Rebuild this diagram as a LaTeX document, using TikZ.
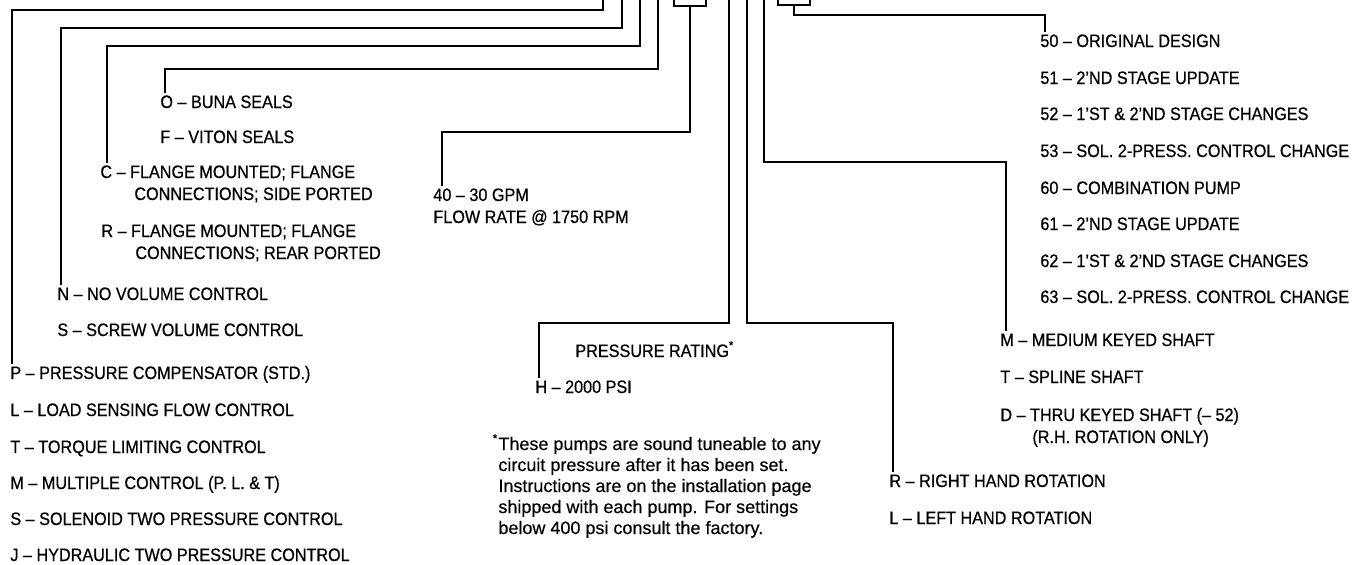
\documentclass[tikz,border=0pt]{standalone}
\usepackage{fontspec}
\setmainfont{Liberation Sans}[FakeStretch=0.9, FakeBold=0.6]
\newfontfamily\notefont{Liberation Sans}[FakeBold=0.4]
\usetikzlibrary{positioning}

\begin{document}
\begin{tikzpicture}[
    x=0.5pt, y=-0.5pt,
    code/.style={anchor=base west, inner sep=0pt, align=left,
                font=\fontsize{9}{11}\selectfont},
    note/.style={anchor=base west, inner sep=0pt, align=left,
                font=\notefont\fontsize{9}{10.5}\selectfont},
    lead/.style={line width=1.2pt, shorten >=1pt},
    slot/.style={draw, line width=1.2pt, minimum width=16pt,
                minimum height=12pt, inner sep=0pt}
]
    \useasboundingbox (0,0) rectangle (1363,564);
    \clip (0,0) rectangle (1363,564);

    % left column
    \node[code] (buna)   at (160,108) {O -- BUNA SEALS};
    \node[code] (viton)  at (160,143) {F -- VITON SEALS};
    \node[code] (cside)  at (100,200) {C -- FLANGE MOUNTED; FLANGE\\ \hspace*{17pt}CONNECTIONS; SIDE PORTED};
    \node[code] (crear)  at (101,259) {R -- FLANGE MOUNTED; FLANGE\\ \hspace*{17pt}CONNECTIONS; REAR PORTED};
    \node[code] (novol)  at (57,300)  {N -- NO VOLUME CONTROL};
    \node[code] (screw)  at (57,336)  {S -- SCREW VOLUME CONTROL};
    \node[code] (pcomp)  at (10,379)  {P -- PRESSURE COMPENSATOR (STD.)};
    \node[code] (lsense) at (10,416)  {L -- LOAD SENSING FLOW CONTROL};
    \node[code] (torque) at (10,453)  {T -- TORQUE LIMITING CONTROL};
    \node[code] (multi)  at (10,489)  {M -- MULTIPLE CONTROL (P. L. \& T)};
    \node[code] (solen)  at (10,525)  {S -- SOLENOID TWO PRESSURE CONTROL};
    \node[code] (hydr)   at (10,561)  {J -- HYDRAULIC TWO PRESSURE CONTROL};

    % middle
    \node[slot] (slota) at (690,-6) {};
    \node[slot] (slotb) at (794,-7) {};
    \node[code] (flow)  at (433,223) {40 -- 30 GPM\\FLOW RATE @ 1750 RPM};
    \node[code] (prate) at (575,357) {PRESSURE RATING\textsuperscript{*}};
    \node[code] (hpsi)  at (535,393) {H -- 2000 PSI};
    \node[note] (fnote) at (498,534)
        {\llap{\textsuperscript{*}}These pumps are sound tuneable to any\\
         circuit pressure after it has been set.\\
         Instructions are on the installation page\\
         shipped with each pump. For settings\\
         below 400 psi consult the factory.};

    % right column
    \node[code] (d50) at (1040,47)  {50 -- ORIGINAL DESIGN};
    \node[code] (d51) at (1040,84)  {51 -- 2’ND STAGE UPDATE};
    \node[code] (d52) at (1040,120) {52 -- 1’ST \& 2’ND STAGE CHANGES};
    \node[code] (d53) at (1040,157) {53 -- SOL. 2-PRESS. CONTROL CHANGE};
    \node[code] (d60) at (1040,194) {60 -- COMBINATION PUMP};
    \node[code] (d61) at (1040,230) {61 -- 2’ND STAGE UPDATE};
    \node[code] (d62) at (1040,267) {62 -- 1’ST \& 2’ND STAGE CHANGES};
    \node[code] (d63) at (1040,303) {63 -- SOL. 2-PRESS. CONTROL CHANGE};
    \node[code] (mkey)   at (1000,346) {M -- MEDIUM KEYED SHAFT};
    \node[code] (spline) at (1000,383) {T -- SPLINE SHAFT};
    \node[code] (thru)   at (1000,443) {D -- THRU KEYED SHAFT (-- 52)\\ \hspace*{16pt}(R.H. ROTATION ONLY)};
    \node[code] (rhand)  at (889,487)  {R -- RIGHT HAND ROTATION};
    \node[code] (lhand)  at (889,524)  {L -- LEFT HAND ROTATION};

    \coordinate (t1) at (603,-14);
    \coordinate (t2) at (622,-14);
    \coordinate (t3) at (640,-14);
    \coordinate (t4) at (658,-14);
    \coordinate (t5) at (729,-14);
    \coordinate (t6) at (747,-14);
    \coordinate (t7) at (764,-14);
    \coordinate (k1) at (12,10);
    \coordinate (k2) at (61,28);
    \coordinate (k3) at (107,46);
    \coordinate (k4) at (165,69);
    \coordinate (k5) at (442,132);
    \coordinate (k6) at (539,323);
    \coordinate (k7) at (893,323);
    \coordinate (k8) at (1006,162);
    \coordinate (k9) at (1045,15);

    \draw[lead] (t1) |- (k1) -- (k1 |- pcomp.north);
    \draw[lead] (t2) |- (k2) -- (k2 |- novol.north);
    \draw[lead] (t3) |- (k3) -- (k3 |- cside.north);
    \draw[lead] (t4) |- (k4) -- (k4 |- buna.north);
    \draw[lead] (slota.south) |- (k5) -- (k5 |- flow.north);
    \draw[lead] (t5) |- (k6) -- (k6 |- hpsi.north);
    \draw[lead] (t6) |- (k7) -- (k7 |- rhand.north);
    \draw[lead] (t7) |- (k8) -- (k8 |- mkey.north);
    \draw[lead] (slotb.south) |- (k9) -- (k9 |- d50.north);
\end{tikzpicture}
\end{document}
